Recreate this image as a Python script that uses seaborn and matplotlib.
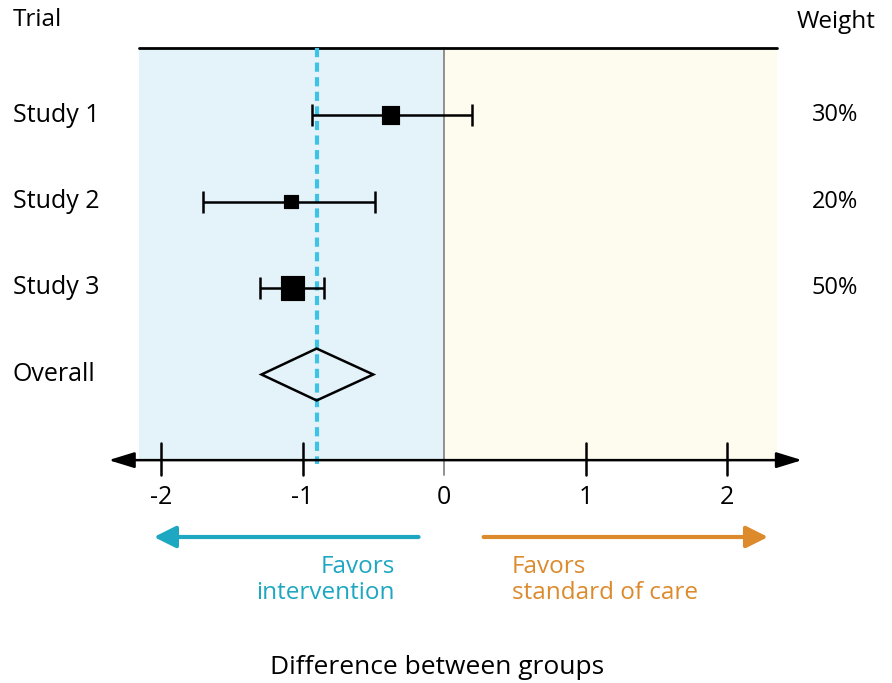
import matplotlib
matplotlib.use("Agg")
import numpy as np
import pandas as pd
import seaborn as sns
import matplotlib.pyplot as plt
from matplotlib.patches import Polygon, Rectangle

# ============================
# Data
# ============================
trials = ["Study 1", "Study 2", "Study 3"]
estimates = [-0.38, -1.08, -1.07]
ci_low = [-0.93, -1.70, -1.30]
ci_high = [0.20, -0.49, -0.85]
weights = [30, 20, 50]
overall_est = -0.90
overall_low = -1.29
overall_high = -0.50
xticks = [-2, -1, 0, 1, 2]

df = pd.DataFrame({"trial": trials, "est": estimates, "lo": ci_low,
                   "hi": ci_high, "w": weights, "row": [1, 2, 3]})

# ============================
# Figure
# ============================
sns.set_theme(style="white")
plt.rcParams["font.family"] = ["Open Sans", "DejaVu Sans"]
plt.rcParams["text.color"] = "black"

fig = plt.figure(figsize=(8.92, 6.83), dpi=100)
ax = fig.add_axes([0, 0, 1, 1])

def px(x):
    return (x - 444) / 141.5

def py(y):
    return (y - 115) / 86.5 + 1

axis_y = 4.99
top_y = 0.225
left_x, right_x = -2.155, 2.35

# shaded halves
ax.add_patch(Rectangle((left_x, top_y), 0 - left_x, axis_y - top_y, color="#e4f3f9", lw=0, zorder=0))
ax.add_patch(Rectangle((0, top_y), right_x, axis_y - top_y, color="#fefcee", lw=0, zorder=0))
ax.plot([left_x, right_x], [top_y, top_y], color="black", lw=2, zorder=2)
ax.plot([0, 0], [top_y, axis_y + 0.17], color="#888888", lw=1.3, zorder=1)

# overall dashed line
ax.plot([overall_est, overall_est], [top_y, axis_y + 0.05], color="#3ec3e6", lw=3,
        dashes=(2.2, 1.3), zorder=3)

# error bars + squares
ax.errorbar(df["est"], df["row"], xerr=[df["est"] - df["lo"], df["hi"] - df["est"]],
            fmt="none", ecolor="black", elinewidth=1.8, capsize=8, capthick=1.8, zorder=4)
sns.scatterplot(data=df, x="est", y="row", size="w", sizes=(95, 280), marker="s",
                color="black", edgecolor="black", legend=False, ax=ax, zorder=5)
ax.set_xlim(px(0), px(892))
ax.set_ylim(py(683), py(0))
ax.axis("off")

# overall diamond
diamond = Polygon([[overall_low, 4], [overall_est, 3.7], [overall_high, 4], [overall_est, 4.3]],
                  closed=True, facecolor="none", edgecolor="black", lw=1.8, zorder=5)
ax.add_patch(diamond)

# x axis with arrows
ax.annotate("", xy=(-2.37, axis_y), xytext=(2.53, axis_y),
            arrowprops=dict(arrowstyle="<|-|>,head_length=1.3,head_width=0.4",
                            color="black", lw=1.8, shrinkA=0, shrinkB=0), zorder=6)
for t in xticks:
    if t != 0:
        ax.plot([t, t], [axis_y - 0.2, axis_y + 0.17], color="black", lw=1.8, zorder=6)
    ax.text(t, py(497), str(t), ha="center", va="center", fontsize=18)

# labels
ax.text(px(13), py(20), "Trial", ha="left", va="center", fontsize=17.5)
ax.text(px(876), py(22), "Weight", ha="right", va="center", fontsize=17.5)
for r, name, w in zip(df["row"], trials, weights):
    ax.text(px(13), r, name, ha="left", va="center", fontsize=18)
    ax.text(px(858), r, f"{w}%", ha="right", va="center", fontsize=17)
ax.text(px(13), 4, "Overall", ha="left", va="center", fontsize=18)

# favors arrows
arr_y = py(537)
ax.annotate("", xy=(-2.05, arr_y), xytext=(-0.18, arr_y),
            arrowprops=dict(arrowstyle="-|>,head_length=1.1,head_width=0.55",
                            color="#1ea7c1", lw=3, shrinkA=0, shrinkB=0))
ax.annotate("", xy=(2.29, arr_y), xytext=(0.28, arr_y),
            arrowprops=dict(arrowstyle="-|>,head_length=1.1,head_width=0.55",
                            color="#dc8a2c", lw=3, shrinkA=0, shrinkB=0))
ax.text(px(395), py(580), "Favors\nintervention",
        ha="right", va="center", fontsize=17.5, color="#1ea7c1", linespacing=1.12)
ax.text(px(512), py(580), "Favors\nstandard of care",
        ha="left", va="center", fontsize=17.5, color="#dc8a2c", linespacing=1.12)

ax.text(px(437), py(667), "Difference between groups",
        ha="center", va="center", fontsize=19)

fig.savefig("out.png", dpi=100)
